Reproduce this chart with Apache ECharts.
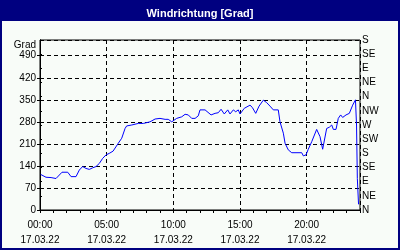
<!DOCTYPE html>
<html>
<head>
<meta charset="utf-8">
<script src="https://cdn.jsdelivr.net/npm/echarts@6/dist/echarts.min.js"></script>
<style>
  html, body { margin: 0; padding: 0; background: #f8fcf8; }
  #root { width: 400px; height: 250px; }
</style>
</head>
<body>
<div id="root"></div>
<script>
// wind direction over the day, hour of day -> degrees
const hours = [
  0.05, 0.45, 0.83, 1.2, 1.33, 1.65, 2.08, 2.33, 2.45, 2.7,
  2.95, 3.2, 3.45, 3.7, 3.95, 4.2, 4.45, 4.7, 4.95, 5.2,
  5.48, 5.87, 6.13, 6.38, 6.5, 6.62, 6.88, 7.0, 7.37, 7.75,
  8.25, 8.63, 9.0, 9.38, 9.62, 9.88, 10.0, 10.25, 10.63, 10.88,
  11.12, 11.38, 11.63, 11.87, 12.0, 12.38, 12.83, 13.13, 13.37, 13.58,
  13.82, 14.08, 14.25, 14.5, 14.68, 14.87, 15.0, 15.32, 15.75, 15.92,
  16.18, 16.43, 16.75, 17.0, 17.25, 17.5, 17.87, 18.0, 18.25, 18.38,
  18.62, 18.88, 19.63, 19.75, 19.95, 20.12, 20.38, 20.75, 21.0, 21.2,
  21.3, 21.5, 21.7, 21.88, 22.0, 22.2, 22.37, 22.55, 22.7, 22.95,
  23.2, 23.45, 23.66, 23.74, 23.8, 23.89
]
const degrees = [
  113, 104, 103, 100, 98, 120, 120, 106, 111, 106,
  127, 138, 132, 129, 134, 138, 148, 164, 175, 180,
  187, 212, 228, 259, 267, 270, 270, 265, 275, 275,
  280, 289, 291, 288, 288, 280, 275, 291, 296, 304,
  302, 291, 291, 299, 318, 318, 302, 307, 309, 320,
  305, 318, 305, 318, 312, 318, 305, 323, 333, 326,
  307, 330, 349, 341, 330, 318, 318, 280, 244, 212,
  191, 182, 182, 172, 175, 193, 217, 256, 233, 193,
  196, 259, 263, 270, 256, 256, 291, 302, 294, 302,
  307, 333, 350, 270, 100, 18
]
const compass = ['N', 'NE', 'E', 'SE', 'S', 'SW', 'W', 'NW', 'N', 'NE', 'E', 'SE', 'S']
const dateLabel = '17.03.22'

const navy = '#000080'
const font = 'Liberation Sans'

const chart = echarts.init(document.getElementById('root'))

const pad = (n) => (n < 10 ? '0' : '') + n

const option = {
  animation: false,
  backgroundColor: '#f8fcf8',
  title: {
    text: 'Windrichtung [Grad]',
    left: 'center',
    top: 3,
    textStyle: { color: '#fff', fontFamily: font, fontWeight: 'bold', fontSize: 11 }
  },
  graphic: [
    { type: 'rect', shape: { x: 0, y: 0, width: 400, height: 21 }, style: { fill: navy }, z: -1 },
    { type: 'rect', shape: { x: 1, y: 1, width: 398, height: 248 }, style: { fill: 'none', stroke: navy, lineWidth: 2 }, z: 100 }
  ],
  grid: {
    left: 40, right: 40, top: 40, bottom: 40,
    show: true,
    backgroundColor: '#f8fcf8',
    borderColor: '#000',
    borderWidth: 1
  },
  xAxis: [
    {
      type: 'value',
      min: 0,
      max: 24,
      interval: 5,
      axisLine: { lineStyle: { color: '#000' } },
      axisTick: { show: false },
      axisLabel: {
        color: '#000',
        fontFamily: font,
        fontSize: 10,
        lineHeight: 15,
        margin: 8,
        showMaxLabel: false,
        formatter: (v) => (v < 24 ? pad(v) + ':00\n' + dateLabel : '')
      },
      splitLine: { show: true, lineStyle: { color: '#000', type: [4, 3] } }
    },
    {
      // hourly ticks only
      type: 'value',
      position: 'bottom',
      min: 0,
      max: 24,
      interval: 1,
      axisLine: { show: false },
      axisTick: { show: true, inside: false, length: 3, lineStyle: { color: '#000' } },
      axisLabel: { show: false },
      splitLine: { show: false }
    }
  ],
  yAxis: [
    {
      type: 'value',
      min: 0,
      max: 540,
      interval: 70,
      name: 'Grad',
      nameLocation: 'end',
      nameGap: -5,
      nameTextStyle: { color: '#000', fontFamily: font, fontSize: 10, align: 'right', verticalAlign: 'middle', padding: [0, 4, 0, 0] },
      axisLine: { show: true, lineStyle: { color: '#000' } },
      axisTick: { show: true, length: 3, lineStyle: { color: '#000' } },
      axisLabel: {
        color: '#000',
        fontFamily: font,
        fontSize: 10,
        margin: 4,
        showMaxLabel: false,
        formatter: (v) => (v % 70 === 0 ? String(v) : '')
      },
      splitLine: { show: true, lineStyle: { color: '#000', type: [4, 3] } }
    },
    {
      type: 'value',
      position: 'right',
      min: 0,
      max: 540,
      interval: 45,
      axisLine: { show: true, lineStyle: { color: '#000' } },
      axisTick: { show: true, length: 2, lineStyle: { color: '#000' } },
      axisLabel: {
        color: '#000',
        fontFamily: font,
        fontSize: 10,
        margin: 2,
        formatter: (v) => compass[Math.round(v / 45)]
      },
      splitLine: { show: false }
    }
  ],
  series: [{
    type: 'line',
    xAxisIndex: 0,
    yAxisIndex: 0,
    showSymbol: false,
    lineStyle: { color: '#0000ff', width: 1 },
    data: hours.map((h, i) => [h, degrees[i]])
  }]
}

chart.setOption(option)
</script>
</body>
</html>
